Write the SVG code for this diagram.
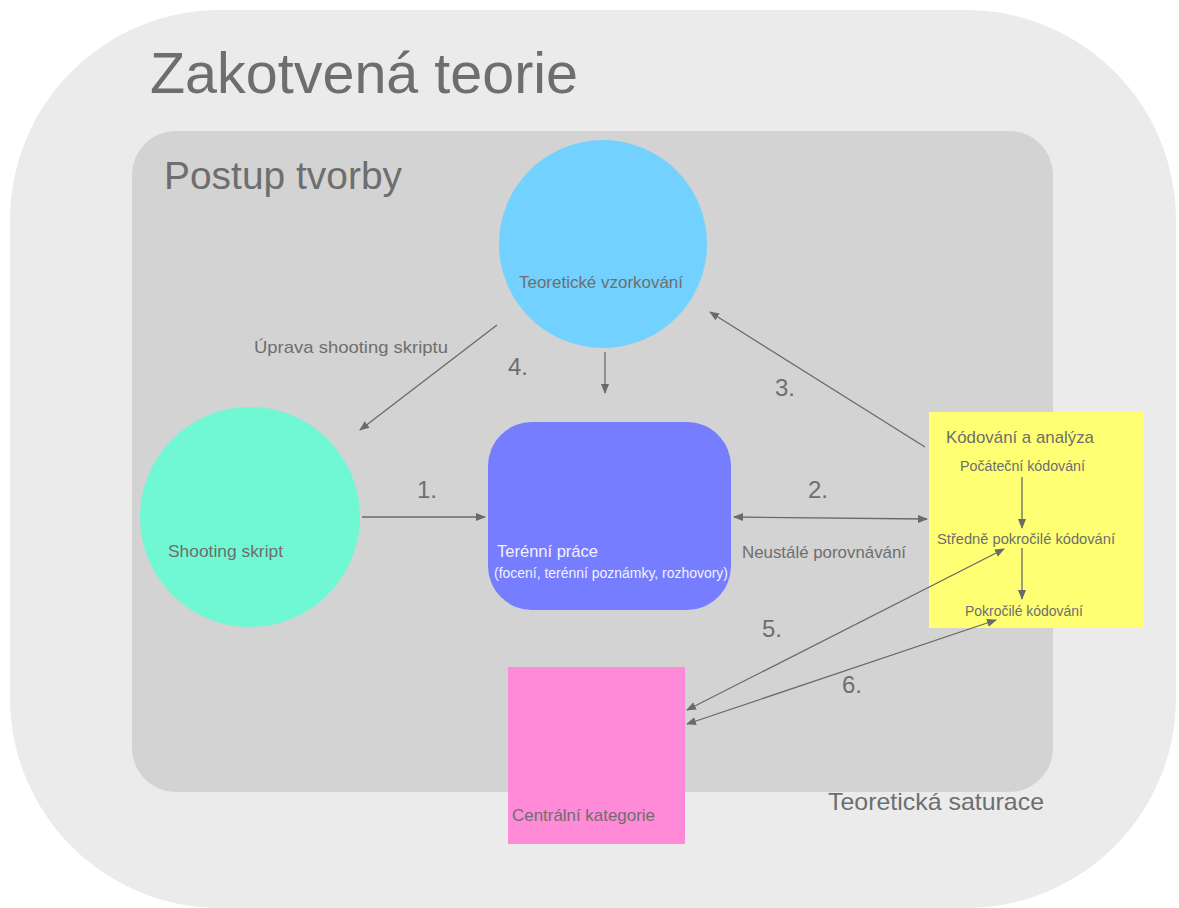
<svg xmlns="http://www.w3.org/2000/svg" width="1179" height="908" viewBox="0 0 1179 908">
<defs>
<marker id="ah" viewBox="0 0 10 10" refX="9" refY="5" markerWidth="10" markerHeight="10" markerUnits="userSpaceOnUse" orient="auto-start-reverse">
<path d="M0,1 L10,5 L0,9 z" fill="#6a6a6a"/>
</marker>
<style>
text{font-family:"Liberation Sans",Arial,sans-serif;fill:#6e6e6e}
.c{stroke:#6a6a6a;stroke-width:1.3;fill:none}
.num{font-size:24px}
</style>
</defs>
<rect width="1179" height="908" fill="#ffffff"/>
<g id="zakotvena">
<rect x="10" y="10" width="1166" height="898" rx="210" ry="210" fill="#ebebeb"/>
<text x="150" y="93" font-size="57" textLength="428" lengthAdjust="spacingAndGlyphs">Zakotvená teorie</text>
</g>
<g id="postup">
<rect x="132" y="131" width="921" height="661" rx="44" ry="44" fill="#d3d3d3"/>
<text x="164" y="189" font-size="39" textLength="238" lengthAdjust="spacingAndGlyphs">Postup tvorby</text>
</g>
<g id="saturace">
<text x="828" y="810" font-size="24" textLength="216" lengthAdjust="spacingAndGlyphs">Teoretická saturace</text>
</g>
<g id="vzorkovani">
<circle cx="603" cy="244" r="104" fill="#73d1ff"/>
<text x="519" y="288" font-size="17" textLength="164" lengthAdjust="spacingAndGlyphs">Teoretické vzorkování</text>
</g>
<g id="shooting">
<circle cx="250" cy="517" r="110" fill="#70f8d4"/>
<text x="168" y="557" font-size="17" textLength="115" lengthAdjust="spacingAndGlyphs">Shooting skript</text>
</g>
<g id="terenni">
<rect x="488" y="422" width="243" height="188" rx="44" ry="44" fill="#767dff"/>
<text x="497" y="557" font-size="17" textLength="101" lengthAdjust="spacingAndGlyphs" style="fill:#f2f2ff">Terénní práce</text>
<text x="494" y="578" font-size="14" textLength="234" lengthAdjust="spacingAndGlyphs" style="fill:#f2f2ff">(focení, terénní poznámky, rozhovory)</text>
</g>
<g id="kodovani">
<rect x="929" y="412" width="215" height="216" fill="#ffff73"/>
<text x="946" y="443" font-size="17" textLength="148" lengthAdjust="spacingAndGlyphs">Kódování a analýza</text>
<text x="960" y="471" font-size="14" textLength="125" lengthAdjust="spacingAndGlyphs">Počáteční kódování</text>
<text x="937" y="544" font-size="14.5" textLength="178" lengthAdjust="spacingAndGlyphs">Středně pokročilé kódování</text>
<text x="965" y="616" font-size="14" textLength="118" lengthAdjust="spacingAndGlyphs">Pokročilé kódování</text>
</g>
<g id="centralni">
<rect x="508" y="667" width="177" height="177" fill="#ff8ad8"/>
<text x="512" y="821" font-size="17" textLength="143" lengthAdjust="spacingAndGlyphs">Centrální kategorie</text>
</g>
<g id="connectors">
<line class="c" x1="497" y1="325" x2="360" y2="430" marker-end="url(#ah)"/>
<line class="c" x1="605" y1="352" x2="605" y2="393" marker-end="url(#ah)"/>
<line class="c" x1="362" y1="517" x2="485" y2="517" marker-end="url(#ah)"/>
<line class="c" x1="734" y1="517" x2="927" y2="519" marker-start="url(#ah)" marker-end="url(#ah)"/>
<line class="c" x1="925" y1="447" x2="710" y2="312" marker-end="url(#ah)"/>
<line class="c" x1="1022" y1="477" x2="1022" y2="528" marker-end="url(#ah)"/>
<line class="c" x1="1022" y1="548" x2="1022" y2="599" marker-end="url(#ah)"/>
<line class="c" x1="1004" y1="549" x2="687" y2="710" marker-start="url(#ah)" marker-end="url(#ah)"/>
<line class="c" x1="996" y1="620" x2="687" y2="724" marker-start="url(#ah)" marker-end="url(#ah)"/>
<text x="254" y="353" font-size="17" textLength="194" lengthAdjust="spacingAndGlyphs">Úprava shooting skriptu</text>
<text x="508" y="375" class="num">4.</text>
<text x="775" y="396" class="num">3.</text>
<text x="417" y="498" class="num">1.</text>
<text x="808" y="498" class="num">2.</text>
<text x="742" y="558" font-size="17" textLength="164" lengthAdjust="spacingAndGlyphs">Neustálé porovnávání</text>
<text x="762" y="637" class="num">5.</text>
<text x="842" y="693" class="num">6.</text>
</g>
</svg>
